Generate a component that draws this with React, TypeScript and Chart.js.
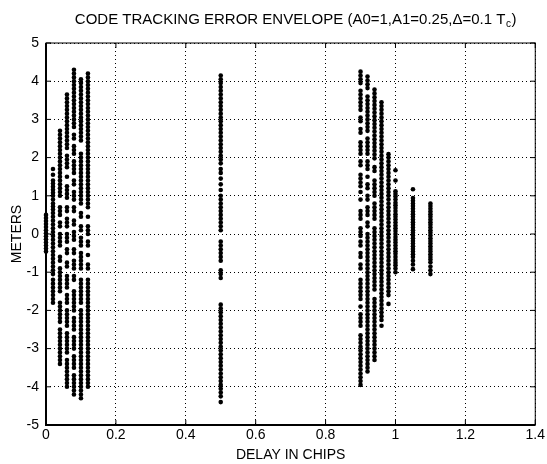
import React, { useEffect, useRef } from "react";
import { Chart, registerables } from "chart.js";

Chart.register(...registerables);

// Delay (in chips) of each column of points
const delays = [0, 0.02, 0.04, 0.06, 0.08, 0.1, 0.12, 0.5, 0.9, 0.92, 0.94, 0.96, 0.98, 1.0, 1.05, 1.1];

// Tracking error values (meters) read for each delay column
const err000 = [0.5, 0.42, 0.34, 0.26, 0.18, 0.1, 0.02, -0.06, -0.14, -0.22, -0.3, -0.38, -0.46];
const err002 = [1.7, 1.55, 1.4, 1.32, 1.24, 1.16, 1.08, 1.0, 0.9, 0.8, 0.72, 0.64, 0.55, 0.45, 0.35, 0.25, 0.15, 0.05, -0.05, -0.15, -0.25, -0.35, -0.45, -0.55, -0.65, -0.75, -0.85, -0.95, -1.05, -1.2, -1.3, -1.4, -1.5, -1.6, -1.7, -1.8];
const err004 = [2.7, 2.6, 2.5, 2.4, 2.3, 2.2, 2.1, 2.0, 1.9, 1.8, 1.7, 1.6, 1.5, 1.4, 1.3, 1.2, 1.1, 1.0, 0.7, 0.6, 0.5, 0.3, 0.2, 0.0, -0.1, -0.2, -0.3, -0.6, -0.7, -0.9, -1.0, -1.1, -1.2, -1.3, -1.4, -1.5, -1.8, -1.9, -2.0, -2.1, -2.2, -2.3, -2.5, -2.6, -2.7, -2.8, -2.9, -3.0, -3.1, -3.2, -3.3, -3.4];
const err006 = [3.65, 3.55, 3.45, 3.35, 3.25, 3.15, 3.05, 2.95, 2.85, 2.75, 2.65, 2.55, 2.45, 2.35, 2.25, 2.05, 1.95, 1.85, 1.75, 1.5, 1.25, 1.15, 1.05, 0.95, 0.7, 0.6, 0.4, 0.3, 0.2, 0.0, -0.1, -0.2, -0.4, -0.5, -0.75, -0.85, -1.1, -1.2, -1.3, -1.4, -1.6, -1.7, -1.8, -2.0, -2.1, -2.2, -2.3, -2.4, -2.6, -2.7, -2.8, -2.9, -3.0, -3.1, -3.3, -3.4, -3.5, -3.6, -3.7, -3.8, -3.9, -4.0];
const err008 = [4.3, 4.2, 4.1, 4.0, 3.9, 3.8, 3.7, 3.6, 3.5, 3.4, 3.3, 3.2, 3.1, 3.0, 2.9, 2.8, 2.6, 2.5, 2.3, 2.2, 2.1, 1.9, 1.8, 1.7, 1.6, 1.4, 1.3, 1.1, 1.0, 0.9, 0.7, 0.6, 0.35, 0.25, 0.05, -0.05, -0.15, -0.4, -0.5, -0.7, -0.8, -0.9, -1.1, -1.2, -1.5, -1.6, -1.7, -1.8, -1.9, -2.0, -2.2, -2.3, -2.4, -2.5, -2.7, -2.8, -2.9, -3.0, -3.2, -3.3, -3.4, -3.5, -3.7, -3.8, -3.9, -4.0, -4.1, -4.2];
const err010 = [4.05, 3.95, 3.85, 3.75, 3.65, 3.55, 3.45, 3.35, 3.25, 3.15, 3.05, 2.95, 2.85, 2.75, 2.65, 2.55, 2.45, 2.1, 2.0, 1.9, 1.8, 1.7, 1.6, 1.5, 1.4, 1.3, 1.2, 1.1, 1.0, 0.9, 0.8, 0.55, 0.45, 0.2, 0.1, -0.1, -0.2, -0.3, -0.5, -0.6, -0.7, -0.8, -0.9, -1.2, -1.3, -1.4, -1.5, -1.6, -1.7, -1.8, -2.0, -2.1, -2.2, -2.3, -2.4, -2.5, -2.6, -2.7, -2.8, -2.9, -3.0, -3.1, -3.2, -3.3, -3.4, -3.5, -3.6, -3.7, -3.8, -3.9, -4.0, -4.1, -4.2, -4.3];
const err012 = [4.2, 4.1, 4.0, 3.9, 3.8, 3.7, 3.6, 3.5, 3.4, 3.3, 3.2, 3.1, 3.0, 2.9, 2.8, 2.7, 2.6, 2.5, 2.4, 2.3, 2.2, 2.1, 2.0, 1.9, 1.8, 1.7, 1.6, 1.5, 1.4, 1.3, 1.2, 1.1, 1.0, 0.9, 0.8, 0.7, 0.45, 0.2, 0.1, 0.0, -0.2, -0.3, -0.55, -0.8, -0.9, -1.2, -1.3, -1.4, -1.5, -1.6, -1.7, -1.8, -1.9, -2.0, -2.1, -2.2, -2.3, -2.4, -2.5, -2.6, -2.7, -2.8, -2.9, -3.0, -3.1, -3.2, -3.3, -3.4, -3.5, -3.6, -3.7, -3.8, -3.9, -4.0];
const err050 = [4.15, 4.05, 3.95, 3.85, 3.75, 3.65, 3.55, 3.45, 3.35, 3.25, 3.15, 3.05, 2.95, 2.85, 2.75, 2.65, 2.55, 2.45, 2.35, 2.25, 2.15, 2.05, 1.95, 1.85, 1.7, 1.6, 1.45, 1.3, 1.15, 1.0, 0.9, 0.8, 0.7, 0.6, 0.5, 0.4, 0.3, 0.2, 0.1, -0.2, -0.3, -0.4, -0.5, -0.6, -0.7, -0.95, -1.05, -1.15, -1.85, -1.95, -2.05, -2.15, -2.25, -2.35, -2.45, -2.55, -2.65, -2.75, -2.85, -2.95, -3.05, -3.15, -3.25, -3.35, -3.45, -3.55, -3.65, -3.75, -3.85, -3.95, -4.05, -4.15, -4.25, -4.4];
const err090 = [4.25, 4.15, 4.05, 3.95, 3.75, 3.65, 3.55, 3.45, 3.35, 3.25, 3.05, 2.95, 2.75, 2.65, 2.4, 2.3, 2.2, 2.1, 1.9, 1.8, 1.55, 1.45, 1.35, 1.25, 1.1, 0.9, 0.6, 0.5, 0.4, 0.15, 0.05, -0.05, -0.2, -0.3, -0.5, -0.6, -0.8, -0.9, -1.2, -1.3, -1.4, -1.5, -1.6, -1.7, -1.9, -2.1, -2.2, -2.3, -2.4, -2.65, -2.75, -2.85, -2.95, -3.05, -3.15, -3.25, -3.35, -3.45, -3.55, -3.65, -3.75, -3.85, -3.95];
const err092 = [4.12, 4.02, 3.92, 3.82, 3.6, 3.5, 3.4, 3.3, 3.2, 3.1, 3.0, 2.9, 2.8, 2.7, 2.5, 2.4, 2.3, 2.2, 2.1, 1.9, 1.8, 1.7, 1.5, 1.3, 1.2, 1.0, 0.9, 0.7, 0.6, 0.5, 0.3, 0.2, 0.0, -0.1, -0.2, -0.3, -0.4, -0.5, -0.6, -0.7, -0.8, -0.9, -1.0, -1.1, -1.2, -1.3, -1.4, -1.5, -1.6, -1.7, -1.8, -1.9, -2.0, -2.1, -2.2, -2.3, -2.4, -2.5, -2.6, -2.7, -2.8, -2.9, -3.0, -3.1, -3.2, -3.3, -3.4, -3.5, -3.6];
const err094 = [3.78, 3.68, 3.58, 3.48, 3.38, 3.28, 3.18, 3.08, 2.98, 2.88, 2.78, 2.68, 2.58, 2.48, 2.38, 2.28, 2.18, 2.08, 1.98, 1.75, 1.65, 1.4, 1.3, 1.2, 1.1, 1.0, 0.8, 0.7, 0.6, 0.5, 0.4, 0.15, 0.05, -0.05, -0.15, -0.25, -0.35, -0.45, -0.55, -0.65, -0.75, -0.85, -0.95, -1.05, -1.15, -1.25, -1.35, -1.45, -1.7, -1.8, -1.9, -2.0, -2.1, -2.2, -2.3, -2.4, -2.5, -2.6, -2.7, -2.8, -2.9, -3.0, -3.1, -3.2, -3.3];
const err096 = [3.45, 3.35, 3.25, 3.15, 3.05, 2.95, 2.85, 2.75, 2.65, 2.55, 2.45, 2.35, 2.25, 2.15, 2.05, 1.95, 1.85, 1.75, 1.65, 1.55, 1.45, 1.35, 1.25, 1.15, 1.05, 0.95, 0.85, 0.75, 0.65, 0.55, 0.45, 0.35, 0.25, 0.15, 0.05, -0.05, -0.15, -0.25, -0.35, -0.45, -0.55, -0.65, -0.75, -0.85, -0.95, -1.05, -1.15, -1.25, -1.35, -1.45, -1.55, -1.65, -1.75, -1.85, -1.95, -2.05, -2.15, -2.25, -2.4];
const err098 = [2.09, 2.0, 1.9, 1.8, 1.7, 1.6, 1.5, 1.4, 1.3, 1.2, 1.1, 1.0, 0.9, 0.8, 0.7, 0.6, 0.5, 0.4, 0.3, 0.2, 0.1, 0.0, -0.1, -0.2, -0.3, -0.4, -0.5, -0.6, -0.7, -0.8, -0.9, -1.0, -1.1, -1.2, -1.3, -1.4, -1.5, -1.6, -1.83];
const err100 = [1.67, 1.4, 1.12, 1.05, 0.98, 0.9, 0.82, 0.75, 0.68, 0.6, 0.52, 0.45, 0.38, 0.3, 0.22, 0.15, 0.08, 0.0, -0.08, -0.15, -0.22, -0.3, -0.38, -0.45, -0.52, -0.6, -0.68, -0.75, -0.82, -0.9, -1.0];
const err105 = [1.17, 0.94, 0.87, 0.8, 0.73, 0.66, 0.59, 0.52, 0.45, 0.38, 0.31, 0.24, 0.17, 0.1, 0.03, -0.04, -0.11, -0.18, -0.25, -0.32, -0.39, -0.46, -0.53, -0.6, -0.7, -0.8, -0.92];
const err110 = [0.8, 0.73, 0.66, 0.59, 0.52, 0.45, 0.38, 0.31, 0.24, 0.17, 0.1, 0.03, -0.04, -0.11, -0.18, -0.25, -0.32, -0.39, -0.46, -0.53, -0.6, -0.67, -0.74, -0.85, -0.95, -1.05];

const columns = [err000, err002, err004, err006, err008, err010, err012, err050, err090, err092, err094, err096, err098, err100, err105, err110];

const xTickValues = [0, 0.2, 0.4, 0.6, 0.8, 1, 1.2, 1.4];
const yTickValues = [-5, -4, -3, -2, -1, 0, 1, 2, 3, 4, 5];

const TITLE_MAIN = "CODE TRACKING ERROR ENVELOPE (A0=1,A1=0.25,\u0394=0.1 T";
const TITLE_SUB = "c";
const TITLE_END = ")";
const X_LABEL = "DELAY IN CHIPS";
const Y_LABEL = "METERS";

const FONT = '"Liberation Sans", Arial, sans-serif';

const framePlugin = {
  id: "frame",
  beforeDatasetsDraw(chart: any) {
    const { ctx, chartArea } = chart;
    const { left, right, top, bottom } = chartArea;
    const xs = chart.scales.x;
    const ys = chart.scales.y;
    ctx.save();
    ctx.strokeStyle = "#000";
    ctx.setLineDash([]);
    ctx.lineWidth = 1;
    ctx.strokeRect(left, top, right - left, bottom - top);
    ctx.lineWidth = 2;
    ctx.beginPath();
    ctx.moveTo(left, top);
    ctx.lineTo(left, bottom);
    ctx.lineTo(right, bottom);
    ctx.stroke();
    ctx.lineWidth = 1;
    ctx.beginPath();
    const tl = 5;
    xTickValues.forEach((v) => {
      const px = xs.getPixelForValue(v);
      ctx.moveTo(px, bottom);
      ctx.lineTo(px, bottom - tl);
      ctx.moveTo(px, top);
      ctx.lineTo(px, top + tl);
    });
    yTickValues.forEach((v) => {
      const py = ys.getPixelForValue(v);
      ctx.moveTo(left, py);
      ctx.lineTo(left + tl, py);
      ctx.moveTo(right, py);
      ctx.lineTo(right - tl, py);
    });
    ctx.stroke();
    ctx.restore();
  },
  afterDraw(chart: any) {
    const { ctx, chartArea } = chart;
    const { left, right } = chartArea;
    ctx.save();
    ctx.fillStyle = "#000";
    ctx.textBaseline = "alphabetic";
    const mainFont = `15px ${FONT}`;
    const subFont = `10px ${FONT}`;
    ctx.font = mainFont;
    const w1 = ctx.measureText(TITLE_MAIN).width;
    const w3 = ctx.measureText(TITLE_END).width;
    ctx.font = subFont;
    const w2 = ctx.measureText(TITLE_SUB).width;
    const total = w1 + w2 + w3 + 1;
    const cx = (left + right) / 2 + 5;
    let x = cx - total / 2;
    const baseY = 24;
    ctx.font = mainFont;
    ctx.fillText(TITLE_MAIN, x, baseY);
    x += w1 + 0.5;
    ctx.font = subFont;
    ctx.fillText(TITLE_SUB, x, baseY + 3);
    x += w2 + 0.5;
    ctx.font = mainFont;
    ctx.fillText(TITLE_END, x, baseY);
    ctx.restore();
  },
};

export default function App() {
  const ref = useRef<HTMLCanvasElement | null>(null);

  useEffect(() => {
    if (!ref.current) return;
    const points: { x: number; y: number }[] = [];
    columns.forEach((col, i) => {
      col.forEach((y) => points.push({ x: delays[i], y }));
    });

    const chart = new Chart(ref.current, {
      type: "scatter",
      data: {
        datasets: [
          {
            data: points,
            pointRadius: 2.3,
            pointBackgroundColor: "#000",
            pointBorderWidth: 0,
            pointBorderColor: "#000",
            clip: 4,
          },
        ],
      },
      plugins: [framePlugin],
      options: {
        animation: false,
        responsive: false,
        devicePixelRatio: 1,
        layout: { padding: { left: 0, right: 11, top: 43, bottom: 0 } },
        plugins: {
          legend: { display: false },
          tooltip: { enabled: false },
          title: { display: false },
        },
        scales: {
          x: {
            type: "linear",
            min: 0,
            max: 1.4,
            afterBuildTicks: (scale: any) => {
              scale.ticks = xTickValues.map((v) => ({ value: v }));
            },
            afterFit: (scale: any) => {
              scale.height = 39;
            },
            ticks: {
              color: "#000",
              font: { family: FONT, size: 14 },
              padding: 2,
              maxRotation: 0,
              autoSkip: false,
              callback: (v: any) => String(Math.round(Number(v) * 10) / 10),
            },
            grid: {
              color: "#000",
              lineWidth: 1,
              drawTicks: false,
            },
            border: { display: false, dash: [1, 3] },
            title: {
              display: true,
              text: X_LABEL,
              color: "#000",
              font: { family: FONT, size: 14 },
              padding: { top: 0, bottom: 0 },
            },
          },
          y: {
            type: "linear",
            min: -5,
            max: 5,
            afterBuildTicks: (scale: any) => {
              scale.ticks = yTickValues.map((v) => ({ value: v }));
            },
            afterFit: (scale: any) => {
              scale.width = 46;
            },
            ticks: {
              color: "#000",
              font: { family: FONT, size: 14 },
              padding: 7,
              autoSkip: false,
              callback: (v: any) => String(v),
            },
            grid: {
              color: "#000",
              lineWidth: 1,
              drawTicks: false,
            },
            border: { display: false, dash: [1, 3] },
            title: {
              display: true,
              text: Y_LABEL,
              color: "#000",
              font: { family: FONT, size: 14 },
              padding: { top: 9, bottom: 0 },
            },
          },
        },
      },
    });
    return () => chart.destroy();
  }, []);

  return (
    <div style={{ position: "fixed", left: 0, top: 0, width: 547, height: 464, background: "#fff" }}>
      <canvas ref={ref} width={547} height={464} style={{ width: 547, height: 464, display: "block" }} />
    </div>
  );
}
